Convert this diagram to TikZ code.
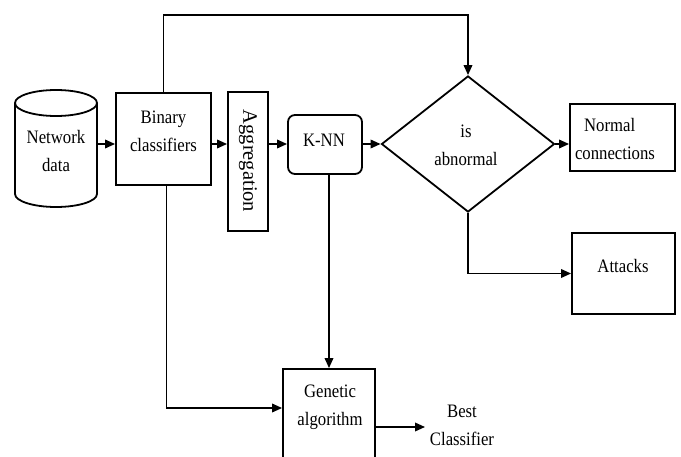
\documentclass[tikz,border=0pt]{standalone}
\usepackage{fontspec}
\setmainfont{Liberation Serif}[FakeStretch=0.88]
\newfontfamily\plainrm{Liberation Serif}
\usetikzlibrary{arrows.meta,shapes.geometric}
\begin{document}
\begin{tikzpicture}[x=1pt,y=-1pt,
  line width=1.8pt,
  arr/.style={-{Triangle[length=10pt,width=8.5pt]}},
  box/.style={draw,rectangle,inner sep=0pt},
  txt/.style={align=center,inner sep=2pt,font=\fontsize{19}{28}\selectfont}]
\clip (0,0) rectangle (681,457);
% cylinder
\draw (15,103) -- (15,194) arc[start angle=180,end angle=0,x radius=41,y radius=13] -- (97,103);
\draw (56,103) ellipse[x radius=41,y radius=13];
\node[minimum width=82,minimum height=117,inner sep=0pt] (nd) at (56,144) {};
\node[txt] (ndT) at (56,151.5) {Network\\data};
% boxes
\node[box,minimum width=95,minimum height=92] (bin) at (163.5,139) {};
\node[txt] (binT) at (163.5,131.5) {Binary\\classifiers};
\node[box,minimum width=40,minimum height=139] (agg) at (248,161.5) {};
\node[txt,rotate=-90,font=\plainrm\fontsize{20.5}{24}\selectfont] (aggT) at (248,161) {Aggregation};
\node[box,rounded corners=7pt,minimum width=74,minimum height=59] (knn) at (325,144.5) {};
\node[txt] (knnT) at (324,140) {K-NN};
\node[draw,diamond,inner sep=0pt,minimum width=173,minimum height=136] (dia) at (468,144) {};
\node[txt] (diaT) at (466,145.5) {is\\abnormal};
\node[box,minimum width=105,minimum height=67] (nor) at (622.5,137.5) {};
\node[txt,align=left] (norT) at (615,139.5) {\hspace{9pt}Normal\\connections};
\node[box,minimum width=103,minimum height=81] (att) at (623.5,273.5) {};
\node[txt] (attT) at (623,266) {Attacks};
\node[box,minimum width=92,minimum height=100] (gen) at (329,419) {};
\node[txt] (genT) at (330,407.5) {Genetic\\algorithm};
\node[txt,inner sep=4pt] (best) at (462,425) {Best\\Classifier};
% connectors
\coordinate (topc) at (300,15);
\draw[arr] (nd.east) -- (bin.west |- nd.east);
\draw[arr] (bin.east |- nd.east) -- (agg.west |- nd.east);
\draw[arr] (agg.east |- nd.east) -- (knn.west |- nd.east);
\draw[arr] (knn.east |- nd.east) -- (dia.west);
\draw[arr] (dia.east) -- (nor.west |- dia.east);
\draw[arr] (bin.north) |- (topc) -| (dia.north);
\draw[arr] (dia.south) |- (att.west);
\draw[arr] (knn.south -| gen.north) -- (gen.north);
\draw[arr] ([xshift=3pt]bin.south) |- ([yshift=11pt]gen.west);
\coordinate (ge) at ([yshift=-8pt]gen.east);
\draw[arr] (ge) -- (ge -| best.west);
\end{tikzpicture}
\end{document}
